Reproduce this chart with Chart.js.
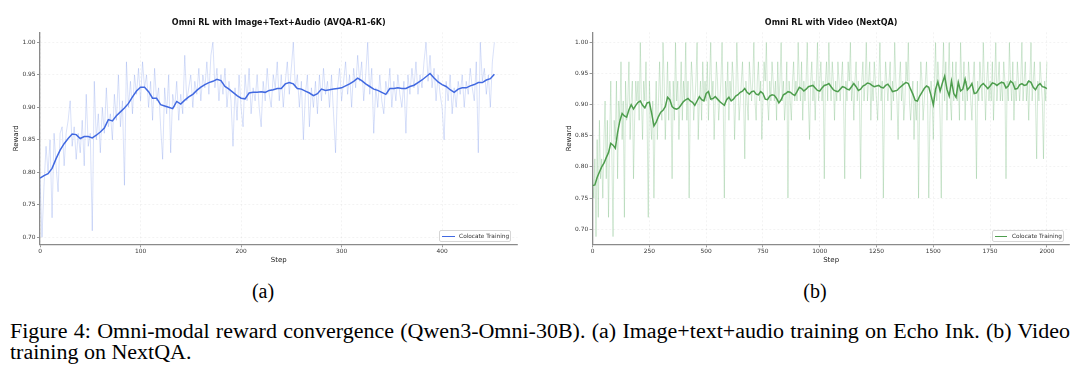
<!DOCTYPE html>
<html><head><meta charset="utf-8">
<script src="https://cdn.jsdelivr.net/npm/chart.js@4.4.1/dist/chart.umd.min.js"></script>
<style>
html,body{margin:0;padding:0;background:#fff;}
#wrap{position:relative;width:1080px;height:377px;overflow:hidden;background:#fff;}
canvas{position:absolute;top:0;}
.legend{position:absolute;box-sizing:border-box;border:0.8px solid #d6d6d6;border-radius:2px;background:rgba(255,255,255,0.85);font-family:'DejaVu Sans';font-size:5.8px;color:#333;}
.legend .sw{position:absolute;left:2.6px;top:4.9px;width:12.4px;height:1.6px;}
.legend .tx{position:absolute;left:19.4px;top:2.4px;line-height:7px;white-space:nowrap;}
.sub{position:absolute;top:281px;width:60px;text-align:center;font-family:'Liberation Serif';font-size:20px;line-height:21.7px;color:#000;}
.cap{position:absolute;left:10px;top:320.7px;width:963.6px;font-family:'Liberation Serif';font-size:20px;line-height:21.7px;color:#000;transform:scaleX(1.1);transform-origin:0 0;}
.l1{text-align:justify;text-align-last:justify;white-space:nowrap;}
</style></head>
<body><div id="wrap">
<canvas id="ca" width="540" height="270" style="left:0;width:540px;height:270px"></canvas>
<canvas id="cb" width="540" height="270" style="left:540px;width:540px;height:270px"></canvas>
<div class="legend" style="left:438.7px;top:230px;width:72.6px;height:12.3px"><div class="sw" style="background:#4169E1"></div><div class="tx">Colocate Training</div></div>
<div class="legend" style="left:991.5px;top:230px;width:72.6px;height:12.3px"><div class="sw" style="background:rgb(78,158,78)"></div><div class="tx">Colocate Training</div></div>
<div class="sub" style="left:233px">(a)</div>
<div class="sub" style="left:785px">(b)</div>
<div class="cap"><div class="l1">Figure 4: Omni-modal reward convergence (Qwen3-Omni-30B). (a) Image+text+audio training on Echo Ink. (b) Video</div><div>training on NextQA.</div></div>
</div>
<script>
// ---------- Data: panel (a) Image+Text+Audio (AVQA-R1-6K) ----------
const titleA = 'Omni RL with Image+Text+Audio (AVQA-R1-6K)';
const rawStrideA = 2;      // raw reward recorded every 2 steps (0..452)
const rawRewardA = [
 .79,.70,.78,.84,.80,.85,.73,.86,.81,.77,
 .86,.87,.81,.86,.88,.91,.84,.87,.82,.86,
 .83,.88,.81,.92,.84,.86,.71,.94,.85,.89,
 .83,.90,.86,.93,.87,.89,.85,.92,.88,.95,
 .87,.91,.78,.97,.90,.94,.89,.95,.92,.96,
 .91,.97,.93,.95,.90,.94,.88,.96,.91,.93,
 .87,.82,.93,.89,.95,.83,.92,.90,.94,.88,
 .92,.89,.98,.91,.93,.95,.90,.94,.92,.96,
 .91,.95,.93,.97,.92,.98,1.0,.93,.96,.91,
 .95,.92,.96,.90,.94,.91,.84,.93,.88,.95,
 .90,.87,.95,.91,.96,.89,.93,.91,.95,.90,
 .87,.94,.91,.96,.92,.90,.95,.93,.97,.91,
 .95,.90,.94,.97,.92,.96,1.0,.93,.95,.90,
 .94,.85,.92,.95,.87,.93,.90,.94,.89,.95,
 .91,.96,.92,.94,.90,.95,.89,.83,.93,.96,
 .91,.94,.97,.92,.95,.90,.96,.93,.98,.94,
 .97,.91,.95,1.0,.92,.96,.86,.93,.90,.95,
 .91,.89,.94,.92,.96,.90,.94,.91,.95,.92,
 .90,.94,.86,.95,.92,.96,.93,.97,.92,.95,
 .93,.97,1.0,.94,.98,.93,.96,.91,.95,.92,
 .90,.85,.94,.91,.95,.89,.93,.90,.94,.92,
 .95,.90,.94,.92,.96,.93,.91,.97,.83,1.0,
 .94,.96,.92,.95,.90,.97,1.0
];
const smoothStrideA = 4;   // smoothed reward every 4 steps (0..452)
const smoothRewardA = [
 .791,.795,.798,.806,.821,.834,.844,.852,.859,.858,
 .852,.855,.855,.853,.857,.862,.868,.881,.879,.887,
 .893,.899,.906,.916,.925,.931,.931,.924,.914,.914,
 .904,.902,.900,.898,.909,.905,.911,.916,.920,.926,
 .931,.935,.938,.940,.943,.941,.932,.928,.923,.918,
 .914,.913,.922,.923,.923,.924,.923,.926,.927,.929,
 .929,.936,.938,.936,.929,.928,.925,.922,.918,.921,
 .928,.926,.927,.928,.929,.930,.933,.936,.940,.945,
 .941,.936,.932,.928,.926,.923,.920,.929,.929,.930,
 .929,.929,.932,.934,.938,.942,.947,.952,.945,.939,
 .935,.932,.927,.923,.928,.930,.930,.933,.935,.938,
 .938,.942,.944,.951
];
const xTicksA = [0, 100, 200, 300, 400];
const yTicksA = [0.70, 0.75, 0.80, 0.85, 0.90, 0.95, 1.00];

// ---------- Data: panel (b) Video (NextQA) ----------
const titleB = 'Omni RL with Video (NextQA)';
const rawStrideB = 5;      // raw reward every 5 steps (0..2000)
const rawRewardB = [
 .781,.750,.813,.688,.844,.719,.875,.781,.813,.750,.844,.906,.781,.875,.719,.844,.938,.813,.688,.875,
 .844,.938,.781,.906,.875,.969,.844,.906,.719,.938,.875,.906,.969,.844,.906,.938,.781,.875,.938,.906,
 .938,.875,1.0,.906,.844,.938,.906,.969,.875,.719,.938,.875,.844,.906,.750,.875,.938,.844,.906,.969,
 .906,.875,1.0,.938,.844,.906,.969,.875,.938,.906,.781,.938,.875,1.0,.906,.938,.844,.906,.969,.875,
 .938,.906,1.0,.875,.938,.750,.906,.969,.938,.875,.906,.938,1.0,.844,.906,.938,.875,.969,.906,.938,
 .906,.969,.875,.938,1.0,.906,.938,.844,.906,.969,.938,.875,.906,.938,1.0,.906,.750,.938,.906,.969,
 .875,.938,.906,.969,.938,.844,.906,1.0,.938,.875,.906,.938,.969,.906,.813,.938,.906,.875,.969,.938,
 .906,.938,1.0,.906,.875,.938,.969,.906,.938,.844,.906,.969,.938,1.0,.906,.875,.938,.906,.969,.938,
 .906,.938,.875,.969,.906,.938,1.0,.906,.938,.875,.906,.969,.750,.938,.906,.875,.938,.969,.906,.938,
 .906,1.0,.938,.906,.969,.875,.938,.906,.938,1.0,.906,.844,.938,.969,.906,.938,.875,.938,1.0,.906,
 .938,.969,.906,.938,.781,.938,.969,.906,1.0,.938,.906,.969,.938,.875,.938,.906,.969,.938,.906,.938,
 .969,.906,.781,.938,.906,.969,.938,1.0,.906,.938,.875,.938,.969,.906,.938,.906,.781,.938,.969,.906,
 .938,1.0,.906,.938,.969,.875,.938,.906,.969,.938,.906,.875,.938,1.0,.906,.938,.750,.906,.969,.938,
 .906,.938,.969,.875,.938,.906,1.0,.938,.906,.844,.938,.969,.906,.938,.875,.906,.969,.938,1.0,.906,
 .875,.906,.938,.844,.906,.875,.938,.750,.906,.969,.938,.875,.906,.938,.969,.906,.750,.875,.938,.906,
 .844,.938,1.0,.906,.969,.938,.875,.750,.938,1.0,.906,.969,.875,.938,1.0,.906,.875,.969,.906,.938,
 .969,.906,.938,.875,1.0,.938,.906,.969,.875,.938,.906,.969,.938,.906,.875,.938,.969,.906,.781,.938,
 .906,.969,.938,.906,1.0,.938,.875,.938,.969,.906,.938,.906,.969,.875,.938,1.0,.906,.938,.969,.906,
 .938,.906,.969,.938,.781,.938,.906,1.0,.938,.906,.969,.875,.938,.906,.969,.938,.906,.938,1.0,.906,
 .938,.969,.906,.938,.875,.938,1.0,.906,.938,.969,.906,.813,.938,.906,.969,.938,.906,.813,.938,.906,
 .969
];
const smoothStrideB = 10;  // smoothed reward every 10 steps (0..2000)
const smoothRewardB = [
 .770,.771,.783,.792,.800,.806,.815,.823,.838,.835,
 .830,.855,.874,.886,.882,.880,.892,.900,.893,.899,
 .904,.906,.899,.895,.903,.904,.886,.866,.872,.881,
 .888,.891,.897,.912,.908,.897,.894,.893,.895,.900,
 .905,.908,.910,.906,.904,.899,.906,.913,.908,.906,
 .918,.921,.909,.910,.913,.909,.905,.902,.899,.908,
 .912,.906,.909,.914,.916,.920,.922,.926,.920,.917,
 .921,.922,.917,.916,.921,.918,.909,.908,.914,.916,
 .915,.910,.903,.908,.916,.918,.921,.920,.917,.915,
 .921,.928,.926,.922,.925,.929,.930,.931,.927,.923,
 .922,.927,.931,.932,.934,.929,.924,.922,.921,.925,
 .929,.928,.925,.924,.929,.934,.929,.923,.925,.930,
 .932,.935,.934,.931,.929,.930,.931,.928,.927,.931,
 .933,.928,.921,.922,.923,.927,.930,.933,.936,.934,
 .925,.917,.907,.906,.914,.920,.926,.930,.928,.915,
 .900,.925,.937,.922,.935,.946,.925,.914,.938,.918,
 .912,.936,.922,.925,.941,.924,.928,.934,.918,.919,
 .925,.931,.934,.930,.926,.930,.935,.934,.931,.934,
 .936,.935,.927,.930,.938,.935,.925,.926,.932,.934,
 .931,.932,.938,.936,.928,.924,.931,.934,.929,.928,
 .926
];
const xTicksB = [0, 250, 500, 750, 1000, 1250, 1500, 1750, 2000];
const yTicksB = [0.70, 0.75, 0.80, 0.85, 0.90, 0.95, 1.00];

const seriesLabel = 'Colocate Training';
const xLabel = 'Step';
const yLabel = 'Reward';

// ---------- Rendering ----------
Chart.defaults.font.family = "'DejaVu Sans', sans-serif";

function toPoints(vals, stride) { return vals.map((v, i) => ({x: i * stride, y: v})); }

function buildChart(id, c) {
  const spine = '#8a8a8a';
  return new Chart(document.getElementById(id), {
    type: 'line',
    data: {datasets: [
      {label: seriesLabel, data: toPoints(c.smooth, c.smoothStride), borderColor: c.color, borderWidth: 1.5, pointRadius: 0, tension: 0},
      {label: 'raw', data: toPoints(c.raw, c.rawStride), borderColor: c.rawColor, borderWidth: c.rawWidth, pointRadius: 0, tension: 0}
    ]},
    options: {
      responsive: false, animation: false, devicePixelRatio: 1,
      layout: {padding: {left: 0, right: c.padRight, top: 0, bottom: 0}},
      plugins: {
        legend: {display: false}, tooltip: {enabled: false},
        title: {display: true, text: c.title, fullSize: false, color: '#111',
                font: {size: 8, weight: 'bold', lineHeight: 1.2}, padding: {top: 18.5, bottom: 4.2}}
      },
      scales: {
        x: {type: 'linear', min: 0, max: c.xMax,
            afterBuildTicks: s => { s.ticks = c.xTicks.map(v => ({value: v})); },
            afterFit: s => { s.height = 25.7; },
            grid: {color: 'rgba(0,0,0,0.08)', lineWidth: 0.6, tickLength: 3, tickColor: spine, tickWidth: 0.9},
            border: {display: true, color: spine, width: 1.3, dash: [2, 2]},
            ticks: {color: '#333', font: {size: 5.9}, padding: 1, maxRotation: 0, autoSkip: false, callback: v => String(v)},
            title: {display: true, text: xLabel, color: '#222', font: {size: 7, lineHeight: 1.2}, padding: {top: 0, bottom: 5.8}}},
        y: {type: 'linear', min: c.yMin, max: c.yMax,
            afterBuildTicks: s => { s.ticks = c.yTicks.map(v => ({value: v})); },
            afterFit: s => { s.width = c.yWidth; },
            grid: {color: 'rgba(0,0,0,0.08)', lineWidth: 0.6, tickLength: 3, tickColor: spine, tickWidth: 0.9},
            border: {display: true, color: spine, width: 1.3, dash: [2, 2]},
            ticks: {color: '#333', font: {size: 5.9}, padding: 1.4, autoSkip: false, callback: v => Number(v).toFixed(2)},
            title: {display: true, text: yLabel, color: '#222', font: {size: 7, lineHeight: 1.2}, padding: {top: c.yTitlePad, bottom: 0}}}
      }
    }
  });
}

buildChart('ca', {title: titleA, smooth: smoothRewardA, smoothStride: smoothStrideA, raw: rawRewardA, rawStride: rawStrideA,
  color: '#4169E1', rawColor: 'rgba(65,105,225,0.25)', rawWidth: 0.8, xMax: 475, yMin: 0.6892, yMax: 1.0154,
  xTicks: xTicksA, yTicks: yTicksA, padRight: 22.5, yWidth: 40, yTitlePad: 12.4});
buildChart('cb', {title: titleB, smooth: smoothRewardB, smoothStride: smoothStrideB, raw: rawRewardB, rawStride: rawStrideB,
  color: 'rgb(78,158,78)', rawColor: 'rgba(95,175,105,0.3)', rawWidth: 0.9, xMax: 2100, yMin: 0.6757, yMax: 1.0164,
  xTicks: xTicksB, yTicks: yTicksB, padRight: 10.4, yWidth: 52.6, yTitlePad: 25.2});
</script>
</body></html>
